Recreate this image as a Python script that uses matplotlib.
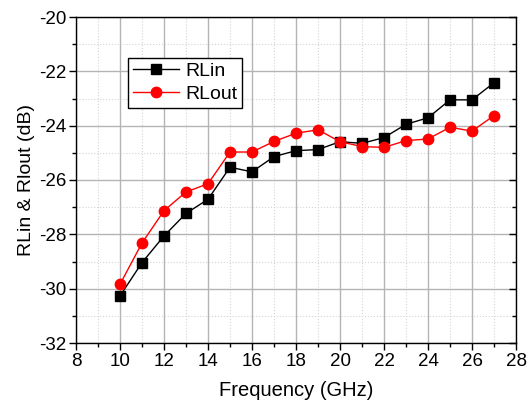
import numpy as np
import matplotlib
matplotlib.use("Agg")
from matplotlib import pyplot as plt
from matplotlib.ticker import MultipleLocator

plt.rcParams['font.family'] = ['Liberation Sans', 'DejaVu Sans']
plt.rcParams['axes.unicode_minus'] = False

freq = [10, 11, 12, 13, 14, 15, 16, 17, 18, 19, 20, 21, 22, 23, 24, 25, 26, 27]
rlin = [-30.27, -29.04, -28.06, -27.23, -26.71, -25.53, -25.70, -25.14, -24.92,
        -24.88, -24.59, -24.65, -24.44, -23.95, -23.71, -23.05, -23.05, -22.42]
rlout = [-29.84, -28.32, -27.13, -26.44, -26.14, -24.97, -24.97, -24.58, -24.28,
         -24.15, -24.59, -24.77, -24.80, -24.55, -24.49, -24.06, -24.20, -23.63]

fig = plt.figure(figsize=(5.27, 4.07), dpi=100)
ax = fig.add_axes([76/527, 1-343/407, 440/527, 326/407])

ax.plot(freq, rlin, color='black', lw=1, marker='s', ms=7, label='RLin', zorder=3)
ax.plot(freq, rlout, color='red', lw=1, marker='o', ms=7.5, label='RLout', zorder=3)

ax.set_xlim(8, 28)
ax.set_ylim(-32, -20)
ax.xaxis.set_major_locator(MultipleLocator(2))
ax.xaxis.set_minor_locator(MultipleLocator(1))
ax.yaxis.set_major_locator(MultipleLocator(2))
ax.yaxis.set_minor_locator(MultipleLocator(1))

ax.grid(which='major', color='#b4b4b4', lw=1, ls='-', zorder=0)
ax.grid(which='minor', color='#d4d4d4', lw=0.8, ls=':', zorder=0)
ax.set_axisbelow(True)

ax.tick_params(which='both', direction='out', labelsize=13.5, width=1, color='black')
ax.tick_params(which='major', length=5, pad=2)
ax.tick_params(which='minor', length=3)
ax.tick_params(axis='y', which='both', right=True)
for t in ax.yaxis.get_ticklines(minor=False)[1::2] + ax.yaxis.get_ticklines(minor=True)[1::2]:
    t.set_marker(0)  # right-side ticks point inward
for sp in ax.spines.values():
    sp.set_linewidth(1)
    sp.set_color('black')

ax.set_xlabel('Frequency (GHz)', fontsize=14.5, labelpad=8)
ax.set_ylabel('RLin & Rlout (dB)', fontsize=14, labelpad=3)

leg = ax.legend(loc='upper left', bbox_to_anchor=(0.118, 0.875), fontsize=14,
                frameon=True, fancybox=False, edgecolor='black', framealpha=1,
                handlelength=2.4, borderpad=0.25, labelspacing=0.25, handletextpad=0.3,
                borderaxespad=0)
leg.get_frame().set_linewidth(1)

fig.savefig('out.png', dpi=100)
